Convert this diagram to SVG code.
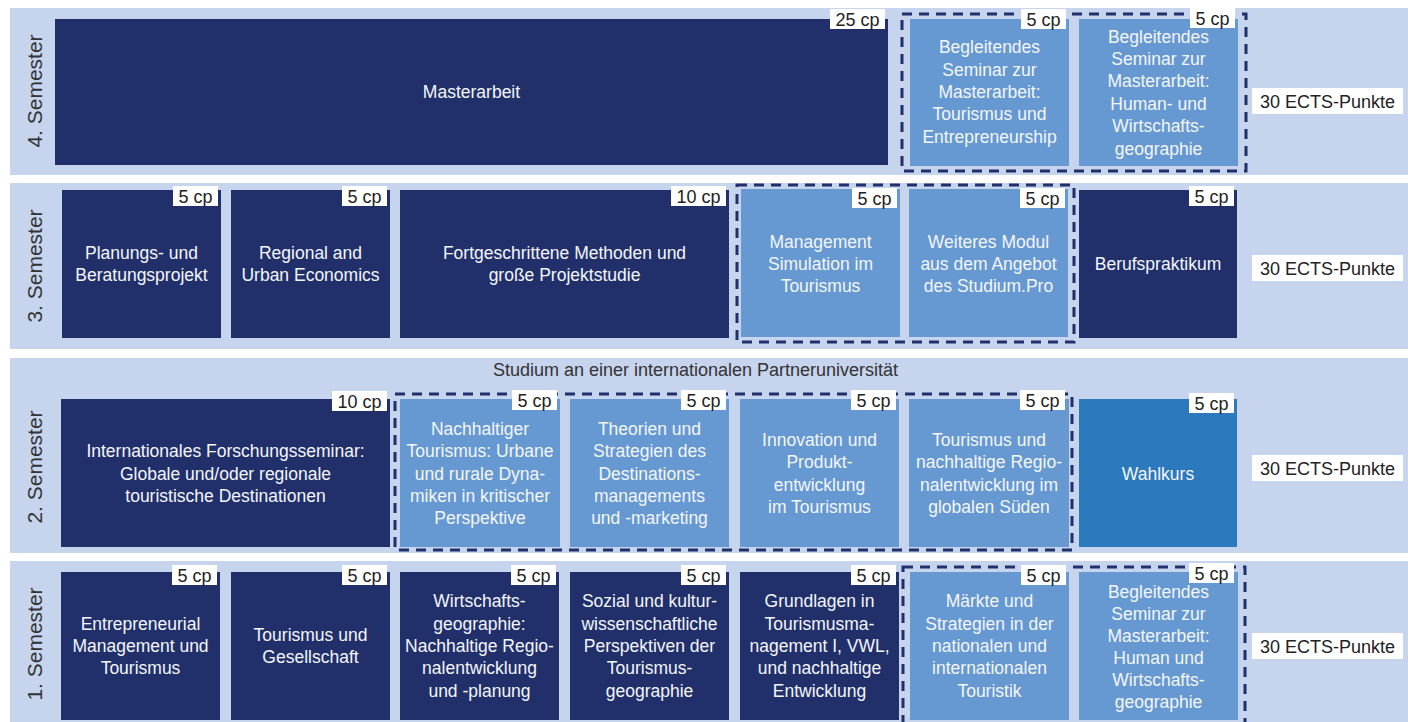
<svg xmlns="http://www.w3.org/2000/svg" width="1408" height="722" viewBox="0 0 1408 722">
<style>
.band{fill:#c6d4ee}
.dark{fill:#21306a}
.light{fill:#6699d1}
.wahl{fill:#2c79be}
.frame{fill:none;stroke:#21306a;stroke-width:3;stroke-dasharray:10 7}
.cp{fill:#ffffff}
.cpt{font-family:"Liberation Sans",Arial,sans-serif;font-size:18px;fill:#222;text-anchor:middle}
.mt{font-family:"Liberation Sans",Arial,sans-serif;font-size:17.5px;fill:#f4f6fa;text-anchor:middle}
.sem{font-family:"Liberation Sans",Arial,sans-serif;font-size:21px;fill:#333;text-anchor:middle}
.note{font-family:"Liberation Sans",Arial,sans-serif;font-size:18px;fill:#333;text-anchor:middle}
</style>
<rect width="1408" height="722" fill="#ffffff"/>
<g id="bands">
<rect class="band" x="10" y="8" width="1398" height="167"/>
<rect class="band" x="10" y="183" width="1398" height="166"/>
<rect class="band" x="10" y="358" width="1398" height="195"/>
<rect class="band" x="10" y="561" width="1398" height="161"/>
<text class="sem" transform="translate(42,91) rotate(-90)">4. Semester</text>
<text class="sem" transform="translate(42,266) rotate(-90)">3. Semester</text>
<text class="sem" transform="translate(42,467) rotate(-90)">2. Semester</text>
<text class="sem" transform="translate(42,644) rotate(-90)">1. Semester</text>
<text class="note" x="695.5" y="376">Studium an einer internationalen Partneruniversität</text>
</g>
<g id="frames">
<rect class="frame" x="902" y="14" width="344" height="157"/>
<rect class="frame" x="737" y="185" width="337" height="157"/>
<rect class="frame" x="395" y="394" width="677" height="156"/>
<rect class="frame" x="903" y="567" width="342" height="162"/>
</g>
<!-- Semester 4 -->
<g id="masterarbeit">
<rect class="dark" x="55" y="19" width="833" height="146"/>
<text class="mt" x="471.5" y="98">Masterarbeit</text>
<rect class="cp" x="830" y="9" width="55" height="20"/><text class="cpt" x="857.5" y="25.5">25 cp</text>
</g>
<g id="seminar-tourismus">
<rect class="light" x="910" y="19" width="159" height="147"/>
<text class="mt"><tspan x="989.5" y="53.2">Begleitendes</tspan><tspan x="989.5" y="75.6">Seminar zur</tspan><tspan x="989.5" y="98">Masterarbeit:</tspan><tspan x="989.5" y="120.4">Tourismus und</tspan><tspan x="989.5" y="142.8">Entrepreneurship</tspan></text>
<rect class="cp" x="1021" y="9" width="45" height="20"/><text class="cpt" x="1043.5" y="25.5">5 cp</text>
</g>
<g id="seminar-human-4">
<rect class="light" x="1079" y="19" width="159" height="147"/>
<text class="mt"><tspan x="1158.5" y="42.5">Begleitendes</tspan><tspan x="1158.5" y="64.9">Seminar zur</tspan><tspan x="1158.5" y="87.3">Masterarbeit:</tspan><tspan x="1158.5" y="109.7">Human- und</tspan><tspan x="1158.5" y="132.1">Wirtschafts-</tspan><tspan x="1158.5" y="154.5">geographie</tspan></text>
<rect class="cp" x="1190" y="8" width="45" height="20"/><text class="cpt" x="1212.5" y="24.5">5 cp</text>
</g>
<g id="ects-4">
<rect class="cp" x="1252" y="88" width="151" height="26"/><text class="cpt" x="1327.5" y="107.5">30 ECTS-Punkte</text>
</g>
<!-- Semester 3 -->
<g id="planungsprojekt">
<rect class="dark" x="62" y="190" width="159" height="148"/>
<text class="mt"><tspan x="141.5" y="258.8">Planungs- und</tspan><tspan x="141.5" y="281.2">Beratungsprojekt</tspan></text>
<rect class="cp" x="173" y="186" width="45" height="20"/><text class="cpt" x="195.5" y="202.5">5 cp</text>
</g>
<g id="urban-economics">
<rect class="dark" x="231" y="190" width="159" height="148"/>
<text class="mt"><tspan x="310.5" y="258.8">Regional and</tspan><tspan x="310.5" y="281.2">Urban Economics</tspan></text>
<rect class="cp" x="342" y="186" width="45" height="20"/><text class="cpt" x="364.5" y="202.5">5 cp</text>
</g>
<g id="projektstudie">
<rect class="dark" x="400" y="190" width="329" height="148"/>
<text class="mt"><tspan x="564.5" y="258.8">Fortgeschrittene Methoden und</tspan><tspan x="564.5" y="281.2">große Projektstudie</tspan></text>
<rect class="cp" x="671" y="186" width="55" height="20"/><text class="cpt" x="698.5" y="202.5">10 cp</text>
</g>
<g id="management-simulation">
<rect class="light" x="741" y="189" width="159" height="148"/>
<text class="mt"><tspan x="820.5" y="247.6">Management</tspan><tspan x="820.5" y="270">Simulation im</tspan><tspan x="820.5" y="292.4">Tourismus</tspan></text>
<rect class="cp" x="852" y="188" width="45" height="20"/><text class="cpt" x="874.5" y="204.5">5 cp</text>
</g>
<g id="weiteres-modul">
<rect class="light" x="909" y="189" width="159" height="148"/>
<text class="mt"><tspan x="988.5" y="247.6">Weiteres Modul</tspan><tspan x="988.5" y="270">aus dem Angebot</tspan><tspan x="988.5" y="292.4">des Studium.Pro</tspan></text>
<rect class="cp" x="1020" y="188" width="45" height="20"/><text class="cpt" x="1042.5" y="204.5">5 cp</text>
</g>
<g id="berufspraktikum">
<rect class="dark" x="1079" y="190" width="158" height="148"/>
<text class="mt" x="1158" y="270">Berufspraktikum</text>
<rect class="cp" x="1189" y="186" width="45" height="20"/><text class="cpt" x="1211.5" y="202.5">5 cp</text>
</g>
<g id="ects-3">
<rect class="cp" x="1252" y="255" width="151" height="26"/><text class="cpt" x="1327.5" y="274.5">30 ECTS-Punkte</text>
</g>
<!-- Semester 2 -->
<g id="forschungsseminar">
<rect class="dark" x="61" y="399" width="329" height="148"/>
<text class="mt"><tspan x="225.5" y="457.1">Internationales Forschungsseminar:</tspan><tspan x="225.5" y="479.5">Globale und/oder regionale</tspan><tspan x="225.5" y="501.9">touristische Destinationen</tspan></text>
<rect class="cp" x="332" y="391" width="55" height="20"/><text class="cpt" x="359.5" y="407.5">10 cp</text>
</g>
<g id="nachhaltiger-tourismus">
<rect class="light" x="400" y="399" width="160" height="148"/>
<text class="mt"><tspan x="480" y="434.7">Nachhaltiger</tspan><tspan x="480" y="457.1">Tourismus: Urbane</tspan><tspan x="480" y="479.5">und rurale Dyna-</tspan><tspan x="480" y="501.9">miken in kritischer</tspan><tspan x="480" y="524.3">Perspektive</tspan></text>
<rect class="cp" x="512" y="390" width="45" height="20"/><text class="cpt" x="534.5" y="406.5">5 cp</text>
</g>
<g id="destinationsmanagement">
<rect class="light" x="570" y="399" width="159" height="148"/>
<text class="mt"><tspan x="649.5" y="434.7">Theorien und</tspan><tspan x="649.5" y="457.1">Strategien des</tspan><tspan x="649.5" y="479.5">Destinations-</tspan><tspan x="649.5" y="501.9">managements</tspan><tspan x="649.5" y="524.3">und -marketing</tspan></text>
<rect class="cp" x="681" y="390" width="45" height="20"/><text class="cpt" x="703.5" y="406.5">5 cp</text>
</g>
<g id="produktentwicklung">
<rect class="light" x="740" y="399" width="159" height="148"/>
<text class="mt"><tspan x="819.5" y="445.9">Innovation und</tspan><tspan x="819.5" y="468.3">Produkt-</tspan><tspan x="819.5" y="490.7">entwicklung</tspan><tspan x="819.5" y="513.1">im Tourismus</tspan></text>
<rect class="cp" x="851" y="390" width="45" height="20"/><text class="cpt" x="873.5" y="406.5">5 cp</text>
</g>
<g id="globaler-sueden">
<rect class="light" x="909" y="399" width="160" height="148"/>
<text class="mt"><tspan x="989" y="445.9">Tourismus und</tspan><tspan x="989" y="468.3">nachhaltige Regio-</tspan><tspan x="989" y="490.7">nalentwicklung im</tspan><tspan x="989" y="513.1">globalen Süden</tspan></text>
<rect class="cp" x="1020" y="390" width="45" height="20"/><text class="cpt" x="1042.5" y="406.5">5 cp</text>
</g>
<g id="wahlkurs">
<rect class="wahl" x="1079" y="399" width="158" height="148"/>
<text class="mt" x="1158" y="479.5">Wahlkurs</text>
<rect class="cp" x="1189" y="393" width="45" height="20"/><text class="cpt" x="1211.5" y="409.5">5 cp</text>
</g>
<g id="ects-2">
<rect class="cp" x="1252" y="455" width="151" height="26"/><text class="cpt" x="1327.5" y="474.5">30 ECTS-Punkte</text>
</g>
<!-- Semester 1 -->
<g id="entrepreneurial-management">
<rect class="dark" x="61" y="572" width="159" height="148"/>
<text class="mt"><tspan x="140.5" y="629.6">Entrepreneurial</tspan><tspan x="140.5" y="652">Management und</tspan><tspan x="140.5" y="674.4">Tourismus</tspan></text>
<rect class="cp" x="172" y="565" width="45" height="20"/><text class="cpt" x="194.5" y="581.5">5 cp</text>
</g>
<g id="tourismus-gesellschaft">
<rect class="dark" x="231" y="572" width="159" height="148"/>
<text class="mt"><tspan x="310.5" y="640.8">Tourismus und</tspan><tspan x="310.5" y="663.2">Gesellschaft</tspan></text>
<rect class="cp" x="342" y="565" width="45" height="20"/><text class="cpt" x="364.5" y="581.5">5 cp</text>
</g>
<g id="wirtschaftsgeographie">
<rect class="dark" x="400" y="572" width="159" height="148"/>
<text class="mt"><tspan x="479.5" y="607.2">Wirtschafts-</tspan><tspan x="479.5" y="629.6">geographie:</tspan><tspan x="479.5" y="652">Nachhaltige Regio-</tspan><tspan x="479.5" y="674.4">nalentwicklung</tspan><tspan x="479.5" y="696.8">und -planung</tspan></text>
<rect class="cp" x="511" y="565" width="45" height="20"/><text class="cpt" x="533.5" y="581.5">5 cp</text>
</g>
<g id="tourismusgeographie">
<rect class="dark" x="570" y="572" width="159" height="148"/>
<text class="mt"><tspan x="649.5" y="607.2">Sozial und kultur-</tspan><tspan x="649.5" y="629.6">wissenschaftliche</tspan><tspan x="649.5" y="652">Perspektiven der</tspan><tspan x="649.5" y="674.4">Tourismus-</tspan><tspan x="649.5" y="696.8">geographie</tspan></text>
<rect class="cp" x="681" y="565" width="45" height="20"/><text class="cpt" x="703.5" y="581.5">5 cp</text>
</g>
<g id="grundlagen">
<rect class="dark" x="740" y="572" width="159" height="148"/>
<text class="mt"><tspan x="819.5" y="607.2">Grundlagen in</tspan><tspan x="819.5" y="629.6">Tourismusma-</tspan><tspan x="819.5" y="652">nagement I, VWL,</tspan><tspan x="819.5" y="674.4">und nachhaltige</tspan><tspan x="819.5" y="696.8">Entwicklung</tspan></text>
<rect class="cp" x="851" y="565" width="45" height="20"/><text class="cpt" x="873.5" y="581.5">5 cp</text>
</g>
<g id="maerkte-strategien">
<rect class="light" x="910" y="572" width="159" height="148"/>
<text class="mt"><tspan x="989.5" y="607.2">Märkte und</tspan><tspan x="989.5" y="629.6">Strategien in der</tspan><tspan x="989.5" y="652">nationalen und</tspan><tspan x="989.5" y="674.4">internationalen</tspan><tspan x="989.5" y="696.8">Touristik</tspan></text>
<rect class="cp" x="1021" y="565" width="45" height="20"/><text class="cpt" x="1043.5" y="581.5">5 cp</text>
</g>
<g id="seminar-human-1">
<rect class="light" x="1079" y="572" width="159" height="148"/>
<text class="mt"><tspan x="1158.5" y="597.5">Begleitendes</tspan><tspan x="1158.5" y="619.6">Seminar zur</tspan><tspan x="1158.5" y="641.7">Masterarbeit:</tspan><tspan x="1158.5" y="663.8">Human und</tspan><tspan x="1158.5" y="685.9">Wirtschafts-</tspan><tspan x="1158.5" y="708">geographie</tspan></text>
<rect class="cp" x="1189" y="563" width="45" height="20"/><text class="cpt" x="1211.5" y="579.5">5 cp</text>
</g>
<g id="ects-1">
<rect class="cp" x="1252" y="633" width="151" height="26"/><text class="cpt" x="1327.5" y="652.5">30 ECTS-Punkte</text>
</g>
</svg>
